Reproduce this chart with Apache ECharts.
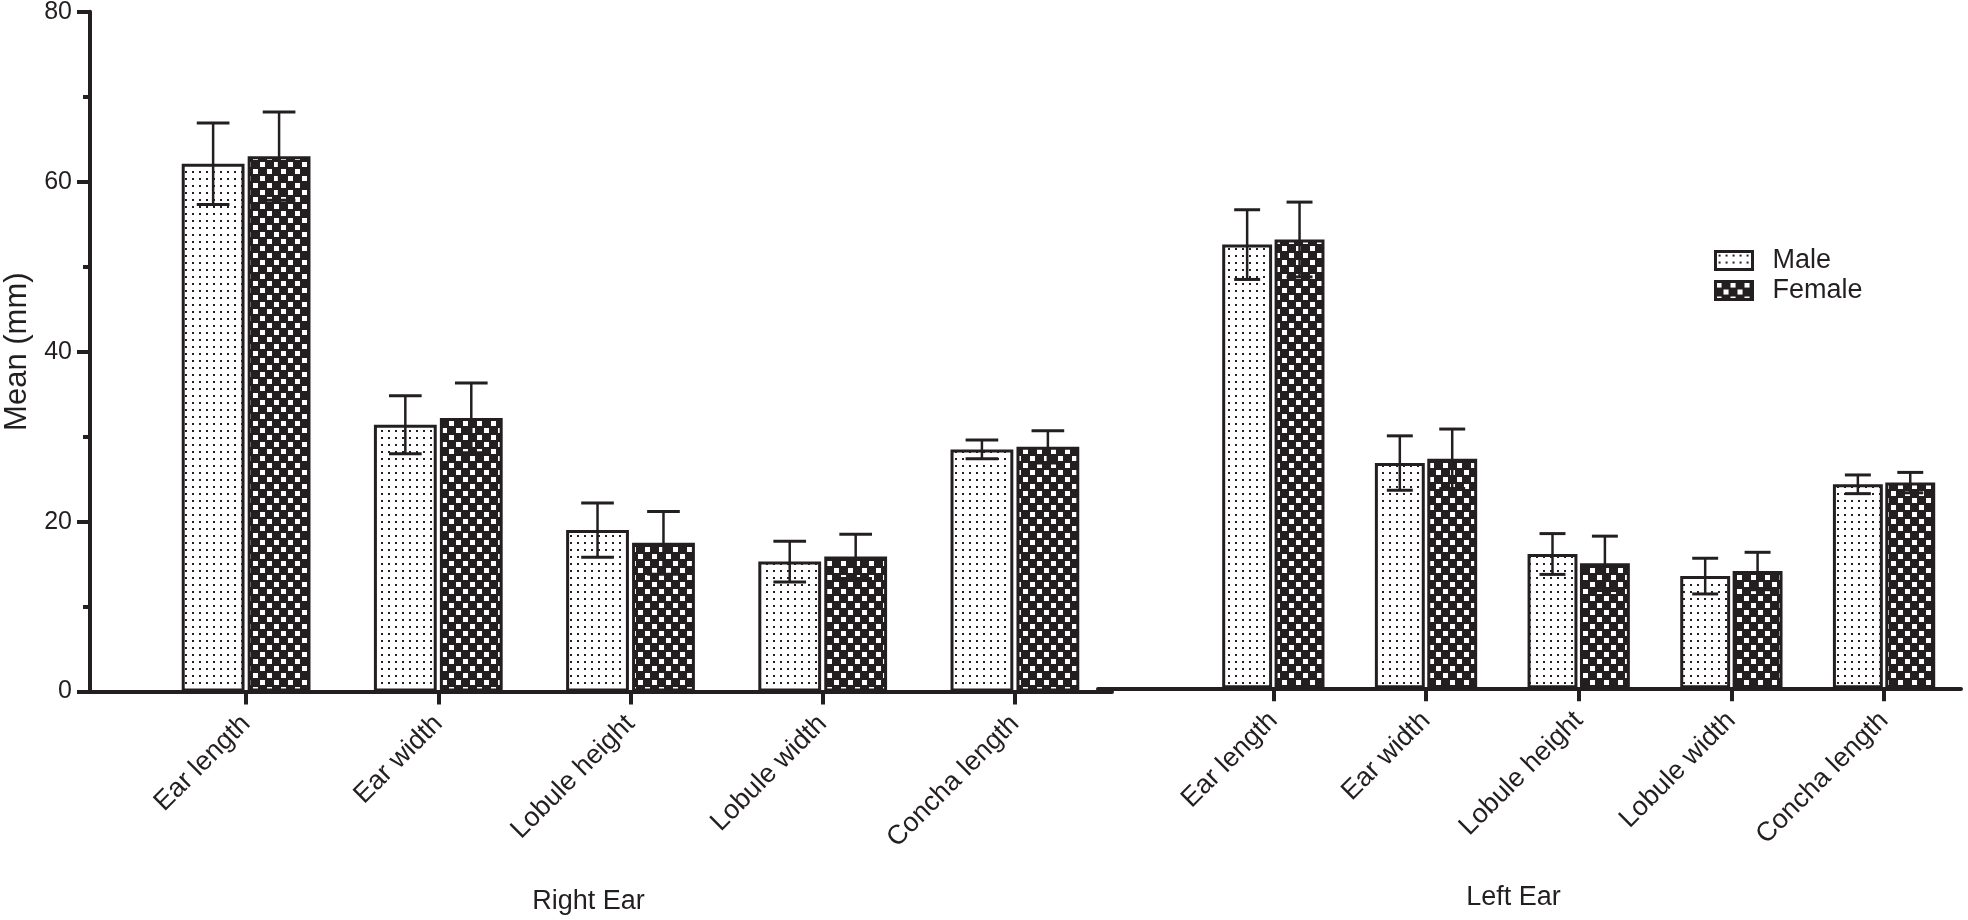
<!DOCTYPE html>
<html>
<head>
<meta charset="utf-8">
<script src="https://cdn.jsdelivr.net/npm/echarts@6/dist/echarts.min.js"></script>
<style>
html,body{margin:0;padding:0;background:#fff;}
#chart{width:1968px;height:920px;}
</style>
</head>
<body>
<div id="chart"></div>
<script>
// ---- data ----
const categories = ['Ear length', 'Ear width', 'Lobule height', 'Lobule width', 'Concha length'];
const rightMaleMean   = [62.1, 31.4, 19.0, 15.3, 28.5];
const rightMaleSD     = [4.8, 3.4, 3.2, 2.4, 1.1];
const rightFemaleMean = [63.0, 32.2, 17.5, 15.9, 28.8];
const rightFemaleSD   = [5.2, 4.1, 3.7, 2.6, 1.9];
const leftMaleMean    = [52.2, 26.5, 15.8, 13.2, 24.0];
const leftMaleSD      = [4.1, 3.2, 2.4, 2.1, 1.1];
const leftFemaleMean  = [52.8, 27.0, 14.7, 13.8, 24.2];
const leftFemaleSD    = [4.4, 3.5, 3.2, 2.2, 1.2];
const yTicks = [0, 20, 40, 60, 80];
const groupNames = ['Right Ear', 'Left Ear'];
const seriesNames = ['Male', 'Female'];

// ---- style ----
const INK = '#231f20';
const FONT = '"Liberation Sans", Arial, Helvetica, sans-serif';
const CAT_GAP = 0.33, BAR_GAP = 0.05;

function makeMalePattern() {
  const c = document.createElement('canvas');
  c.width = 7; c.height = 7;
  const g = c.getContext('2d');
  g.fillStyle = '#ffffff'; g.fillRect(0, 0, 7, 7);
  g.fillStyle = INK; g.fillRect(3, 3, 2, 2);
  return { image: c, repeat: 'repeat' };
}
function makeFemalePattern() {
  const c = document.createElement('canvas');
  c.width = 14; c.height = 14;
  const g = c.getContext('2d');
  g.fillStyle = INK; g.fillRect(0, 0, 14, 14);
  g.fillStyle = '#ffffff';
  g.fillRect(1, 1, 5, 5);
  g.fillRect(8, 8, 5, 5);
  return { image: c, repeat: 'repeat' };
}
const malePattern = makeMalePattern();
const femalePattern = makeFemalePattern();

function barSeries(name, data, axisIdx, pattern) {
  return {
    name: name, type: 'bar', xAxisIndex: axisIdx, yAxisIndex: axisIdx,
    data: data, barCategoryGap: (CAT_GAP * 100) + '%', barGap: (BAR_GAP * 100) + '%',
    itemStyle: { color: pattern, borderColor: INK, borderWidth: 3 },
    emphasis: { disabled: true }, z: 2
  };
}
function errSeries(means, sds, axisIdx, sign) {
  return {
    type: 'custom', xAxisIndex: axisIdx, yAxisIndex: axisIdx, z: 5, silent: true,
    data: means.map((m, i) => [i, m, sds[i]]),
    encode: { x: 0, y: 1 },
    renderItem: function (params, api) {
      const i = api.value(0), m = api.value(1), s = api.value(2);
      const band = api.size([1, 0])[0];
      const w = band * (1 - CAT_GAP) / (2 + BAR_GAP);
      const off = sign * w * (1 + BAR_GAP) / 2;
      const top = api.coord([i, m + s]);
      const bot = api.coord([i, m - s]);
      const x = top[0] + off;
      const half = w * 0.26;
      const st = { stroke: INK, lineWidth: 3 };
      return {
        type: 'group', children: [
          { type: 'line', shape: { x1: x, y1: top[1], x2: x, y2: bot[1] }, style: { stroke: INK, lineWidth: 2.5 } },
          { type: 'line', shape: { x1: x - half, y1: top[1], x2: x + half, y2: top[1] }, style: st },
          { type: 'line', shape: { x1: x - half, y1: bot[1], x2: x + half, y2: bot[1] }, style: st }
        ]
      };
    }
  };
}

const frameX = (gi, name, padRight) => ({
  gridIndex: gi, type: 'category', data: [''],
  axisLine: { lineStyle: { color: INK, width: 4 } },
  axisTick: { show: false }, axisLabel: { show: false }, splitLine: { show: false },
  name: name, nameLocation: 'middle', nameGap: 196,
  nameTextStyle: { fontSize: 27, color: INK, fontFamily: FONT, padding: [0, padRight, 0, 0] }
});
const barX = (gi) => ({
  gridIndex: gi, type: 'category', data: categories,
  axisLine: { show: false },
  axisTick: { show: true, alignWithLabel: true, length: 13, lineStyle: { color: INK, width: 4 } },
  axisLabel: { rotate: 45, fontSize: 27, color: INK, fontFamily: FONT, margin: 28, interval: 0 },
  splitLine: { show: false }
});
const hiddenY = (gi) => ({ gridIndex: gi, type: 'value', min: yTicks[0], max: yTicks[yTicks.length - 1], show: false });

const option = {
  backgroundColor: '#ffffff',
  animation: false,
  grid: [
    { left: 90, right: 856, top: 11.7, bottom: 228.4, outerBoundsMode: 'none', containLabel: false },
    { left: 150, right: 857, top: 11.7, bottom: 228.4, outerBoundsMode: 'none', containLabel: false },
    { left: 1098, right: 7, top: 8.3, bottom: 231.7, outerBoundsMode: 'none', containLabel: false },
    { left: 1197, right: 7.6, top: 8.3, bottom: 231.7, outerBoundsMode: 'none', containLabel: false }
  ],
  legend: {
    data: seriesNames, orient: 'vertical', left: 1709, top: 242,
    itemWidth: 37, itemHeight: 18, itemGap: 3, icon: 'rect',
    itemStyle: { borderColor: INK, borderWidth: 3 },
    textStyle: { fontSize: 27, lineHeight: 27, color: INK, fontFamily: FONT, padding: [0, 0, 0, 15] },
    selectedMode: false
  },
  xAxis: [frameX(0, groupNames[0], 25), barX(1), frameX(2, groupNames[1], 32), barX(3)],
  yAxis: [
    {
      gridIndex: 0, type: 'value', min: yTicks[0], max: yTicks[yTicks.length - 1], interval: 20,
      axisLine: { show: true, lineStyle: { color: INK, width: 4 } },
      axisTick: { show: true, length: 13, lineStyle: { color: INK, width: 4 } },
      minorTick: { show: true, splitNumber: 2, length: 7, lineStyle: { color: INK, width: 4 } },
      splitLine: { show: false }, minorSplitLine: { show: false },
      axisLabel: { fontSize: 25, color: INK, fontFamily: FONT, margin: 18 },
      name: 'Mean (mm)', nameLocation: 'middle', nameGap: 57, nameRotate: 90,
      nameTextStyle: { fontSize: 31, color: INK, fontFamily: FONT }
    },
    hiddenY(1), hiddenY(2), hiddenY(3)
  ],
  series: [
    barSeries(seriesNames[0], rightMaleMean, 1, malePattern),
    barSeries(seriesNames[1], rightFemaleMean, 1, femalePattern),
    barSeries(seriesNames[0], leftMaleMean, 3, malePattern),
    barSeries(seriesNames[1], leftFemaleMean, 3, femalePattern),
    errSeries(rightMaleMean, rightMaleSD, 1, -1),
    errSeries(rightFemaleMean, rightFemaleSD, 1, 1),
    errSeries(leftMaleMean, leftMaleSD, 3, -1),
    errSeries(leftFemaleMean, leftFemaleSD, 3, 1)
  ]
};

const chart = echarts.init(document.getElementById('chart'), null, { renderer: 'canvas' });
chart.setOption(option);
</script>
</body>
</html>
